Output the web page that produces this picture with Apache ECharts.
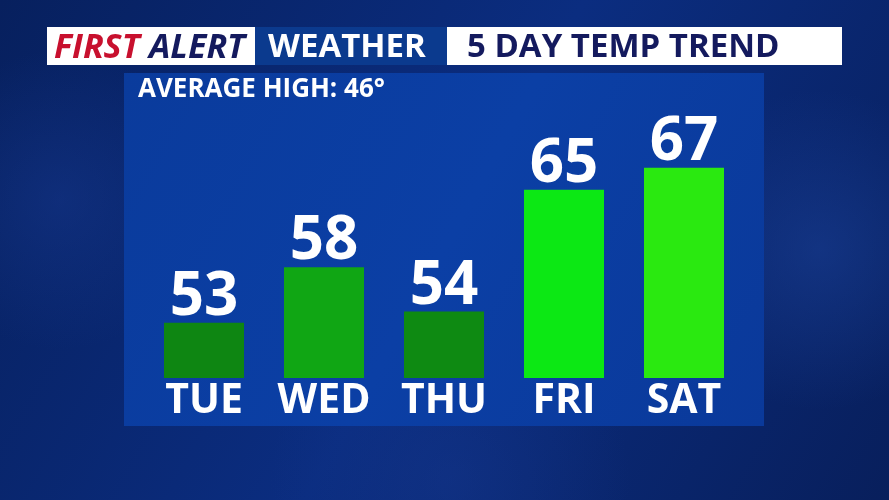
<!DOCTYPE html>
<html>
<head>
<meta charset="utf-8">
<script src="https://cdn.jsdelivr.net/npm/echarts@6/dist/echarts.min.js"></script>
<style>
html,body{margin:0;padding:0;background:#0a2a74;}
#chart{width:889px;height:500px;}
</style>
</head>
<body>
<div id="chart"></div>
<script>
const days = ['TUE', 'WED', 'THU', 'FRI', 'SAT'];
const highs = [53, 58, 54, 65, 67];
const barColors = ['#0e8612', '#10a614', '#0e8a12', '#0ce814', '#2ae910'];
const headerLeftRed = 'FIRST';
const headerLeftNavy = 'ALERT';
const headerMid = 'WEATHER';
const headerRight = '5 DAY TEMP TREND';
const subtitle = 'AVERAGE HIGH: 46°';

const FONT = '"Open Sans", "DejaVu Sans", sans-serif';
const chart = echarts.init(document.getElementById('chart'), null, {renderer: 'canvas'});

const option = {
  animation: false,
  backgroundColor: '#0a2a74',
  graphic: [
    {type: 'rect', z: -20, shape: {x: 0, y: 0, width: 889, height: 500},
      style: {fill: new echarts.graphic.LinearGradient(0, 0, 1, 1, [
        {offset: 0, color: '#07205e'}, {offset: 0.5, color: '#0b2d80'}, {offset: 1, color: '#081f5c'}])}},
    {type: 'circle', z: -19, shape: {cx: 820, cy: 250, r: 160},
      style: {fill: new echarts.graphic.RadialGradient(0.5, 0.5, 0.5, [
        {offset: 0, color: 'rgba(30,70,160,0.45)'}, {offset: 1, color: 'rgba(30,70,160,0)'}])}},
    {type: 'circle', z: -19, shape: {cx: 60, cy: 200, r: 150},
      style: {fill: new echarts.graphic.RadialGradient(0.5, 0.5, 0.5, [
        {offset: 0, color: 'rgba(25,60,150,0.4)'}, {offset: 1, color: 'rgba(25,60,150,0)'}])}},
    {type: 'circle', z: -19, shape: {cx: 450, cy: 480, r: 180},
      style: {fill: new echarts.graphic.RadialGradient(0.5, 0.5, 0.5, [
        {offset: 0, color: 'rgba(25,60,150,0.35)'}, {offset: 1, color: 'rgba(25,60,150,0)'}])}},
    {type: 'rect', z: -10, shape: {x: 124, y: 73, width: 640, height: 353},
      style: {fill: new echarts.graphic.LinearGradient(0, 0, 1, 1, [
        {offset: 0, color: '#0a3b9c'}, {offset: 0.5, color: '#0b3fa5'}, {offset: 1, color: '#0a399a'}])}},
    {type: 'rect', z: -5, shape: {x: 47, y: 27, width: 208, height: 38}, style: {fill: '#ffffff'}},
    {type: 'rect', z: -5, shape: {x: 255, y: 27, width: 192, height: 38}, style: {fill: '#0b3a8e'}},
    {type: 'rect', z: -5, shape: {x: 447, y: 27, width: 395, height: 38}, style: {fill: '#ffffff'}},
    {type: 'text', z: 5, x: 54, y: 48,
      style: {text: headerLeftRed, fill: '#c8102e', font: 'italic bold 34px ' + FONT, textVerticalAlign: 'middle'}},
    {type: 'text', z: 5, x: 149, y: 48,
      style: {text: headerLeftNavy, fill: '#141a5e', font: 'italic bold 34px ' + FONT, textVerticalAlign: 'middle'}},
    {type: 'text', z: 5, x: 268, y: 48,
      style: {text: headerMid, fill: '#ffffff', font: 'bold 33px ' + FONT, textVerticalAlign: 'middle'}},
    {type: 'text', z: 5, x: 467, y: 48,
      style: {text: headerRight, fill: '#141a5e', font: 'bold 33px ' + FONT, textVerticalAlign: 'middle'}},
    {type: 'text', z: 5, x: 138, y: 90,
      style: {text: subtitle, fill: '#ffffff', font: 'bold 26px ' + FONT, textVerticalAlign: 'middle'}}
  ],
  grid: {left: 144, right: 145, top: 134.5, bottom: 122, containLabel: false},
  xAxis: {
    type: 'category', data: days,
    axisLine: {show: false}, axisTick: {show: false}, splitLine: {show: false},
    axisLabel: {interval: 0, color: '#ffffff', fontFamily: FONT, fontWeight: 'bold', fontSize: 41, margin: 3, lineHeight: 41}
  },
  yAxis: {type: 'value', min: 48, max: 70, show: false, splitLine: {show: false}},
  series: [{
    type: 'bar', barWidth: 80,
    data: highs.map((v, i) => ({value: v, itemStyle: {color: barColors[i]}})),
    label: {show: true, position: 'top', distance: 0, offset: [0, 5], color: '#ffffff',
      fontFamily: FONT, fontWeight: 'bold', fontSize: 60, lineHeight: 60}
  }]
};
chart.setOption(option);
</script>
</body>
</html>
